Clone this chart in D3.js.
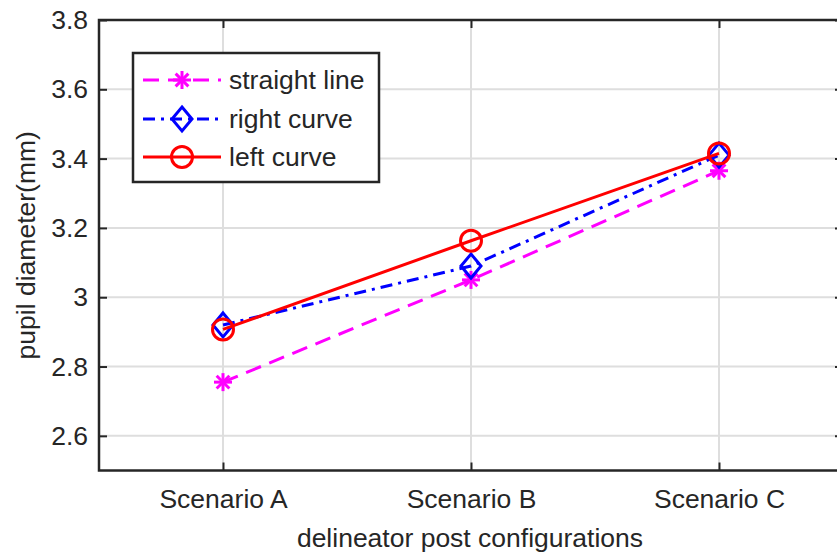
<!DOCTYPE html>
<html>
<head>
<meta charset="utf-8">
<script src="https://cdn.jsdelivr.net/npm/d3@7"></script>
<style>
  body { margin: 0; background: #fff; }
  svg text { font-family: "Liberation Sans", Arial, sans-serif; fill: #262626; }
</style>
</head>
<body>
<div id="chart"></div>
<script>
"use strict";

// Values.
let categories = ["Scenario A", "Scenario B", "Scenario C"];
let straightLine = [2.755, 3.05, 3.365];
let rightCurve = [2.92, 3.09, 3.41];
let leftCurve = [2.907, 3.163, 3.415];
let yTicks = [2.6, 2.8, 3.0, 3.2, 3.4, 3.6, 3.8];
let seriesNames = ["straight line", "right curve", "left curve"];

let width = 837, height = 552;
let margin = { left: 99, top: 20, right: 843, bottom: 470.5 };
let fontSize = "26.5px";

let svg = d3.select("#chart").append("svg")
  .attr("width", width)
  .attr("height", height);

// MATLAB style: categories at 1..3, axis from 0.5 to 3.5
let x = d3.scaleLinear().domain([0.5, 3.5]).range([margin.left, margin.right]);
let y = d3.scaleLinear().domain([2.5, 3.8]).range([margin.bottom, margin.top]);

// Grid lines
let grid = svg.append("g").attr("stroke", "#dedede").attr("stroke-width", 2);
yTicks.forEach(t => {
  grid.append("line")
    .attr("x1", margin.left).attr("x2", margin.right)
    .attr("y1", y(t)).attr("y2", y(t));
});
categories.forEach((c, i) => {
  grid.append("line")
    .attr("x1", x(i + 1)).attr("x2", x(i + 1))
    .attr("y1", margin.top).attr("y2", margin.bottom);
});

// Axes box with inward ticks
let axisColour = "#262626";
let leftAxis = d3.axisLeft(y).tickValues(yTicks).tickSizeInner(-8).tickSizeOuter(0)
  .tickPadding(11).tickFormat(d => d3.format("")(+d.toFixed(1)));
let gLeft = svg.append("g").attr("transform", `translate(${margin.left},0)`).call(leftAxis);
gLeft.select(".domain").remove();
gLeft.selectAll("line").attr("stroke", axisColour).attr("stroke-width", 2);
gLeft.selectAll("text").style("font-size", fontSize).attr("fill", axisColour);

let rightAxis = d3.axisRight(y).tickValues(yTicks).tickSizeInner(-8).tickSizeOuter(0).tickFormat("");
let gRight = svg.append("g").attr("transform", `translate(${margin.right},0)`).call(rightAxis);
gRight.select(".domain").remove();
gRight.selectAll("line").attr("stroke", axisColour).attr("stroke-width", 2);

let bottomAxis = d3.axisBottom(x).tickValues([1, 2, 3]).tickSizeInner(-8).tickSizeOuter(0)
  .tickPadding(19).tickFormat(d => categories[d - 1]);
let gBottom = svg.append("g").attr("transform", `translate(0,${margin.bottom})`).call(bottomAxis);
gBottom.select(".domain").remove();
gBottom.selectAll("line").attr("stroke", axisColour).attr("stroke-width", 2);
gBottom.selectAll("text").style("font-size", fontSize).attr("fill", axisColour);

let topAxis = d3.axisTop(x).tickValues([1, 2, 3]).tickSizeInner(-8).tickSizeOuter(0).tickFormat("");
let gTop = svg.append("g").attr("transform", `translate(0,${margin.top})`).call(topAxis);
gTop.select(".domain").remove();
gTop.selectAll("line").attr("stroke", axisColour).attr("stroke-width", 2);

svg.append("rect")
  .attr("x", margin.left).attr("y", margin.top)
  .attr("width", margin.right - margin.left).attr("height", margin.bottom - margin.top)
  .attr("fill", "none").attr("stroke", axisColour).attr("stroke-width", 2.5);

// Axis labels
svg.append("text")
  .attr("x", 470).attr("y", 547)
  .attr("text-anchor", "middle").style("font-size", fontSize)
  .text("delineator post configurations");

svg.append("text")
  .attr("transform", `translate(35,${(margin.top + margin.bottom) / 2}) rotate(-90)`)
  .attr("text-anchor", "middle").style("font-size", fontSize)
  .text("pupil diameter(mm)");

// Marker drawing helpers
function drawStar(g, cx, cy, colour) {
  let r = 9;
  [0, 45, 90, 135].forEach(a => {
    let rad = a * Math.PI / 180;
    g.append("line")
      .attr("x1", cx - r * Math.cos(rad)).attr("y1", cy - r * Math.sin(rad))
      .attr("x2", cx + r * Math.cos(rad)).attr("y2", cy + r * Math.sin(rad))
      .attr("stroke", colour).attr("stroke-width", 3);
  });
}
function drawDiamond(g, cx, cy, colour) {
  let w = 10, h = 12;
  g.append("path")
    .attr("d", `M${cx},${cy - h}L${cx + w},${cy}L${cx},${cy + h}L${cx - w},${cy}Z`)
    .attr("fill", "none").attr("stroke", colour).attr("stroke-width", 3);
}
function drawCircle(g, cx, cy, colour) {
  g.append("circle").attr("cx", cx).attr("cy", cy).attr("r", 10.5)
    .attr("fill", "none").attr("stroke", colour).attr("stroke-width", 3);
}

let series = [
  { name: seriesNames[0], values: straightLine, colour: "#ff00ff", dash: "16,9", marker: drawStar },
  { name: seriesNames[1], values: rightCurve, colour: "#0000ff", dash: "12,6,3,6", marker: drawDiamond },
  { name: seriesNames[2], values: leftCurve, colour: "#ff0000", dash: null, marker: drawCircle }
];

let line = d3.line().x((d, i) => x(i + 1)).y(d => y(d));

series.forEach(s => {
  let g = svg.append("g");
  g.append("path")
    .attr("d", line(s.values))
    .attr("fill", "none")
    .attr("stroke", s.colour)
    .attr("stroke-width", 3)
    .attr("stroke-dasharray", s.dash);
  s.values.forEach((v, i) => s.marker(g, x(i + 1), y(v), s.colour));
});

// Legend
let legend = svg.append("g");
legend.append("rect")
  .attr("x", 133).attr("y", 53).attr("width", 246).attr("height", 129)
  .attr("fill", "#fff").attr("stroke", axisColour).attr("stroke-width", 2.5);
let legendY = [80, 119, 157];
series.forEach((s, i) => {
  let ly = legendY[i];
  legend.append("line")
    .attr("x1", 143).attr("x2", 221).attr("y1", ly).attr("y2", ly)
    .attr("stroke", s.colour).attr("stroke-width", 3)
    .attr("stroke-dasharray", s.dash);
  s.marker(legend, 182, ly, s.colour);
  legend.append("text")
    .attr("x", 229).attr("y", ly).attr("dy", "0.35em")
    .style("font-size", fontSize)
    .text(s.name);
});
</script>
</body>
</html>
